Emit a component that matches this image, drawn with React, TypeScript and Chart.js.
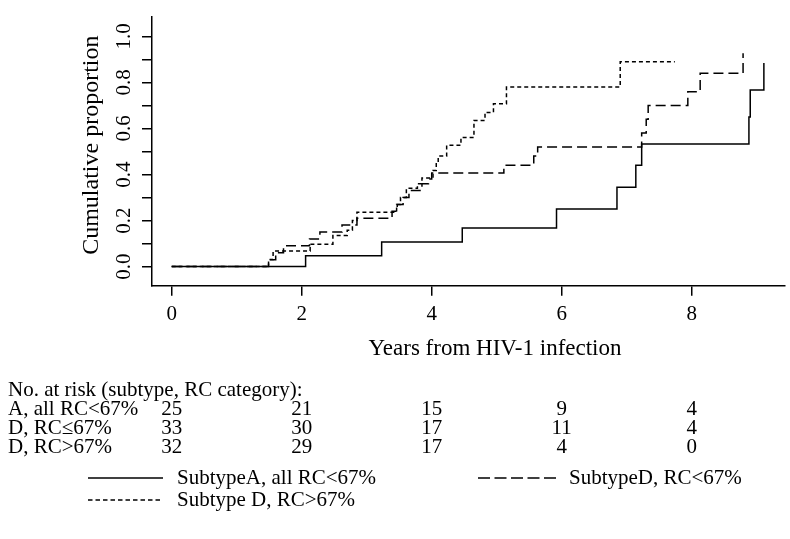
import React, { useEffect, useRef } from "react";
import { Chart, registerables } from "chart.js";

Chart.register(...registerables);

// Kaplan-Meier style step data (years, cumulative proportion)
const solidX = [0, 2.06, 3.23, 4.47, 5.92, 6.85, 7.14, 7.23, 8.88, 8.9, 9.11];
const solidY = [0, 0.047, 0.107, 0.168, 0.25, 0.345, 0.44, 0.533, 0.65, 0.767, 0.885];

const dashX = [0, 1.49, 1.6, 1.72, 2.12, 2.28, 2.62, 2.85, 3.39, 3.47, 3.56, 3.65, 3.85, 3.95, 4.0, 5.11, 5.57, 5.63, 7.23, 7.3, 7.33, 7.94, 8.13, 8.79];
const dashY = [0, 0.03, 0.06, 0.09, 0.12, 0.15, 0.18, 0.21, 0.24, 0.27, 0.3, 0.33, 0.36, 0.38, 0.406, 0.44, 0.48, 0.52, 0.58, 0.64, 0.7, 0.76, 0.84, 0.927];

const dotX = [0, 1.49, 1.56, 2.13, 2.48, 2.7, 2.78, 2.85, 3.46, 3.52, 3.61, 3.78, 3.85, 4.02, 4.07, 4.1, 4.23, 4.45, 4.65, 4.82, 4.95, 5.15, 6.9, 7.74];
const dotY = [0, 0.031, 0.068, 0.097, 0.135, 0.158, 0.2, 0.236, 0.27, 0.3, 0.34, 0.36, 0.385, 0.417, 0.45, 0.48, 0.527, 0.561, 0.635, 0.67, 0.707, 0.78, 0.89, 0.89];

const xTicks = [0, 2, 4, 6, 8];
const yTicks = [0, 0.1, 0.2, 0.3, 0.4, 0.5, 0.6, 0.7, 0.8, 0.9, 1.0];
const yLabelTicks = [0, 0.2, 0.4, 0.6, 0.8, 1.0];

const seriesNames = ["SubtypeA, all RC<67%", "SubtypeD, RC<67%", "Subtype D, RC>67%"];

const riskTitle = "No. at risk (subtype, RC category):";
const riskTimes = [0, 2, 4, 6, 8];
const riskLabels = ["A, all RC<67%", "D, RC\u226467%", "D, RC>67%"];
const riskA = [25, 21, 15, 9, 4];
const riskD1 = [33, 30, 17, 11, 4];
const riskD2 = [32, 29, 17, 4, 0];

const xTitle = "Years from HIV-1 infection";
const yTitle = "\u00a0\u00a0Cumulative proportion";

const FONT = '"Liberation Serif", "Times New Roman", serif';

const toPts = (xs: number[], ys: number[]) => xs.map((x, i) => ({ x, y: ys[i] }));

const extraText = {
  id: "extraText",
  afterDraw(chart: any) {
    const ctx = chart.ctx as CanvasRenderingContext2D;
    const xs = chart.scales.x;
    ctx.save();
    ctx.fillStyle = "#000";
    ctx.textBaseline = "middle";

    // x-axis title
    ctx.font = `23px ${FONT}`;
    ctx.textAlign = "center";
    ctx.fillText(xTitle, 495, 349);

    // number at risk table
    ctx.font = `21px ${FONT}`;
    ctx.textAlign = "left";
    ctx.fillText(riskTitle, 8, 390);
    const rows = [riskA, riskD1, riskD2];
    const rowY = [409, 428, 447];
    rows.forEach((row, r) => {
      ctx.textAlign = "left";
      ctx.fillText(riskLabels[r], 8, rowY[r]);
      ctx.textAlign = "center";
      row.forEach((v, i) => {
        ctx.fillText(String(v), xs.getPixelForValue(riskTimes[i]), rowY[r]);
      });
    });

    // legend
    ctx.font = `21px ${FONT}`;
    const items = [
      { x0: 88, x1: 163, y: 478, tx: 177, dash: [] as number[] },
      { x0: 478, x1: 556, y: 478, tx: 569, dash: [12, 4.5] },
      { x0: 88, x1: 163, y: 500, tx: 177, dash: [4.5, 3] },
    ];
    items.forEach((it, i) => {
      ctx.beginPath();
      ctx.setLineDash(it.dash);
      ctx.lineWidth = 1.5;
      ctx.strokeStyle = "#000";
      ctx.moveTo(it.x0, it.y);
      ctx.lineTo(it.x1, it.y);
      ctx.stroke();
      ctx.setLineDash([]);
      ctx.textAlign = "left";
      ctx.fillText(seriesNames[i], it.tx, it.y);
    });
    ctx.restore();
  },
};

export default function App() {
  const ref = useRef<HTMLCanvasElement | null>(null);

  useEffect(() => {
    if (!ref.current) return;
    const lineDs = (label: string, data: any[], dash: number[]) => ({
      label,
      data,
      borderColor: "#000",
      borderWidth: 1.5,
      borderDash: dash,
      stepped: true,
      pointRadius: 0,
      fill: false,
    });
    const chart = new Chart(ref.current, {
      type: "line",
      data: {
        datasets: [
          lineDs(seriesNames[0], toPts(solidX, solidY), []),
          lineDs(seriesNames[1], toPts(dashX, dashY), [10, 5]),
          lineDs(seriesNames[2], toPts(dotX, dotY), [4, 3]),
        ],
      },
      options: {
        responsive: false,
        animation: false,
        devicePixelRatio: 1,
        layout: { padding: { top: 5, right: 5, left: 0, bottom: 0 } },
        plugins: { legend: { display: false }, tooltip: { enabled: false } },
        scales: {
          x: {
            type: "linear",
            min: -0.303,
            max: 9.435,
            afterBuildTicks: (s: any) => {
              s.ticks = xTicks.map((v) => ({ value: v }));
            },
            afterFit: (s: any) => {
              s.height = 539 - 285.7;
            },
            ticks: {
              color: "#000",
              font: { family: FONT, size: 21 },
              padding: 6,
              autoSkip: false,
              maxRotation: 0,
              minRotation: 0,
              callback: (v: any) => String(v),
            },
            grid: {
              drawOnChartArea: false,
              drawTicks: true,
              tickLength: 10,
              color: "#000",
              lineWidth: 1.5,
            },
            border: { display: true, color: "#000", width: 1.5 },
          },
          y: {
            type: "linear",
            min: -0.0833,
            max: 1.0863,
            afterBuildTicks: (s: any) => {
              s.ticks = yTicks.map((v) => ({ value: v }));
            },
            afterFit: (s: any) => {
              s.width = 152;
            },
            ticks: {
              color: "#000",
              font: { family: FONT, size: 21 },
              padding: 4,
              autoSkip: false,
              minRotation: 90,
              maxRotation: 90,
              crossAlign: "center",
              callback: (v: any) =>
                yLabelTicks.some((t) => Math.abs(t - v) < 1e-6) ? Number(v).toFixed(1) : "",
            },
            title: {
              display: true,
              text: yTitle,
              color: "#000",
              font: { family: FONT, size: 24 },
              padding: { top: 77, bottom: 0 },
            },
            grid: {
              drawOnChartArea: false,
              drawTicks: true,
              tickLength: 10,
              color: "#000",
              lineWidth: 1.5,
            },
            border: { display: true, color: "#000", width: 1.5 },
          },
        },
      } as any,
      plugins: [extraText],
    });
    return () => chart.destroy();
  }, []);

  return (
    <div style={{ position: "fixed", left: 0, top: 0, width: 790, height: 539, background: "#fff" }}>
      <canvas ref={ref} width={790} height={539} style={{ display: "block" }} />
    </div>
  );
}
